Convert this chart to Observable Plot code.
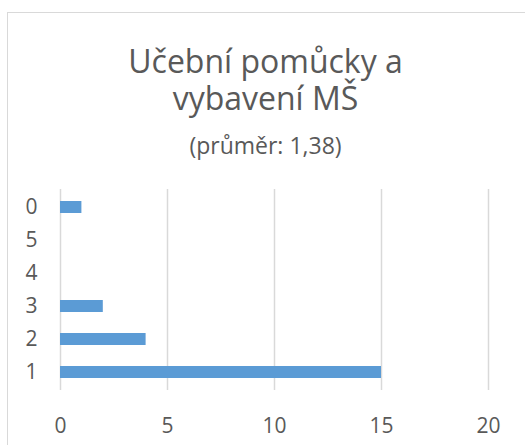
<!DOCTYPE html>
<html><head><meta charset="utf-8">
<script src="https://cdn.jsdelivr.net/npm/d3@7"></script>
<script src="https://cdn.jsdelivr.net/npm/@observablehq/plot@0.6"></script>
<style>
html,body{margin:0;padding:0;width:525px;height:445px;overflow:hidden;background:#fff;}
#frame{position:absolute;left:7px;top:12px;width:540px;height:460px;border:1px solid #d9d9d9;box-sizing:border-box;}
.t{position:absolute;left:7px;width:517px;text-align:center;color:#595959;font-family:"Open Sans",sans-serif;white-space:nowrap;}
#t1{top:43px;font-size:32px;line-height:36px;height:36px;}
#t2{top:80px;font-size:32px;line-height:36px;height:36px;}
#sub{top:130px;font-size:23px;line-height:30px;}
#chart{position:absolute;left:0;top:180px;width:525px;}
</style></head><body>
<div id="frame"></div>
<div class="t" id="t1">Učební pomůcky a</div>
<div class="t" id="t2">vybavení MŠ</div>
<div class="t" id="sub">(průměr: 1,38)</div>
<div id="chart"></div>
<script>
const categories = ["0","5","4","3","2","1"];
const counts = [1, 0, 0, 2, 4, 15];
const xTicks = [0, 5, 10, 15, 20];
const data = categories.map((c, i) => ({cat: c, n: counts[i]}));
const plot = Plot.plot({
  width: 525, height: 265,
  marginLeft: 60, marginRight: 37, marginTop: 9, marginBottom: 55,
  style: {fontFamily: "'Open Sans', sans-serif", fontSize: "21px", color: "#595959", background: "transparent"},
  x: {domain: [0, 20], ticks: xTicks, label: null},
  y: {domain: categories, paddingInner: 0.64, paddingOuter: 0.32, label: null},
  marks: [
    Plot.ruleX(xTicks, {stroke: "#d9d9d9", strokeWidth: 1.5}),
    Plot.barX(data, {x: "n", y: "cat", fill: "#5b9bd5"}),
    Plot.axisX({ticks: xTicks, tickSize: 0, tickPadding: 28, fontSize: 21, fill: "#595959", label: null}),
    Plot.axisY({tickSize: 0, tickPadding: 23, fontSize: 21, fill: "#595959", label: null})
  ]
});
document.getElementById("chart").appendChild(plot);
</script>
</body></html>
